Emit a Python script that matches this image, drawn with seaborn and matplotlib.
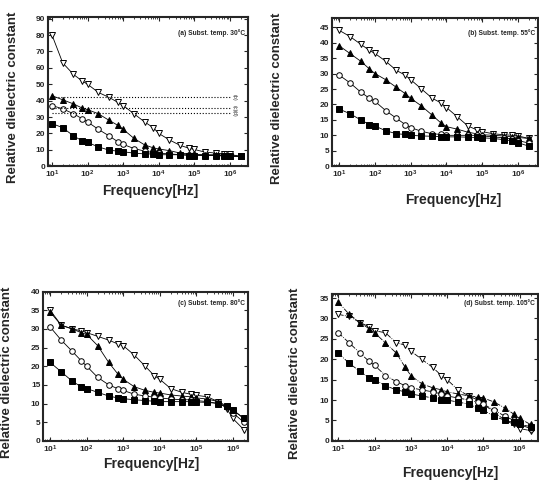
import matplotlib
matplotlib.use("Agg")
import matplotlib.pyplot as plt
import matplotlib.ticker as mticker
import seaborn as sns

# measurement frequencies [Hz]
freq = [10, 20, 40, 70, 100, 200, 400, 700, 1e3, 2e3, 4e3, 7e3,
        1e4, 2e4, 4e4, 7e4, 1e5, 2e5, 4e5, 7e5, 1e6, 2e6]

# (a) substrate 30 C
a_down = [80, 63, 56, 52, 50, 45, 42, 39, 37, 32, 27, 23.5, 20, 16, 12.7, 11, 10.2, 8.6, 8, 7.6, 7.2, 6]
a_up = [43, 40.5, 38, 35.5, 34.5, 32, 28, 25, 22.5, 17, 13, 11.2, 10.5, 9.5, 8, 7.5, 7.3, 7, 7, 6.8, 6.5, 6]
a_circ = [37, 35, 32, 29, 27, 22.5, 18.5, 15, 13.3, 10.8, 9.2, 8.3, 8, 7.5, 7, 7, 7, 6.5, 6.5, 6.5, 6.2, 6]
a_sq = [26, 23.5, 18.5, 15.5, 14.5, 11.8, 9.8, 9.2, 8.8, 8, 7.5, 7.5, 7, 7, 7, 6.5, 6.5, 6.5, 6.5, 6.2, 6, 6]
a_ref_vals = [42, 35.5, 32.5]
a_ref_names = ["(b)", "(c)", "(d)"]

# (b) substrate 55 C
b_down = [44, 42, 39.5, 37.5, 36.5, 34, 31, 29.5, 28, 25, 22, 20.5, 19, 16, 13, 11.8, 11.2, 10.5, 10.2, 10, 9.8, 9]
b_up = [39, 36.5, 34, 31.5, 30, 28, 25.5, 23.5, 22, 19.5, 16.5, 14, 12.8, 12, 11, 10.5, 10.2, 10, 9.8, 9.5, 9.3, 9]
b_circ = [29.5, 27, 24, 22, 21, 18, 15.5, 13.5, 12.5, 11.3, 10.5, 10.3, 10, 10, 10, 10, 9.8, 9.5, 9.2, 8.8, 8.3, 7.5]
b_sq = [18.5, 17, 15, 13.5, 13, 11.5, 10.5, 10.3, 10, 9.8, 9.7, 9.6, 9.5, 9.5, 9.4, 9.3, 9.2, 9, 8.6, 8.2, 7.6, 6.5]

# (c) substrate 80 C
c_down = [35, 31, 30, 29.5, 29, 28, 27, 26, 25.5, 23, 20, 17.5, 16.5, 14, 13, 12.5, 12.2, 11.8, 10.5, 8.5, 6, 3]
c_up = [34.5, 31, 30, 29, 28.5, 25.5, 21, 18, 16.5, 14.5, 13.5, 13, 12.8, 12.3, 12, 11.8, 11.5, 11.2, 10.5, 9.3, 8.3, 6]
c_circ = [30.5, 27, 24, 21.5, 20, 17, 15, 14, 13.5, 12.5, 12, 11.7, 11.5, 11.2, 11, 11, 10.8, 10.5, 10, 9, 7.5, 5]
c_sq = [21, 18.5, 16, 14.5, 14, 13, 12, 11.5, 11.3, 11, 10.8, 10.6, 10.5, 10.5, 10.5, 10.5, 10.4, 10.3, 10, 9.2, 8.3, 6]

# (d) substrate 105 C
d_down = [31, 30.5, 29, 28, 27, 26.5, 24, 23.5, 22, 20, 18, 16, 15, 12.5, 11, 10, 9, 7, 5, 4, 3, 2.5]
d_up = [34, 31, 29, 27.5, 26.5, 24, 21.5, 18, 16, 14, 13, 12.5, 12, 11.5, 11, 10.8, 10.5, 9.5, 8, 6.5, 5.5, 4]
d_circ = [26.5, 24, 21.5, 19.5, 18.5, 16, 14.5, 13.5, 13, 12.5, 12, 11.5, 11, 10.5, 10, 9.5, 9, 7.5, 6, 5, 4, 3]
d_sq = [21.5, 19, 17, 15.5, 15, 13.5, 12.5, 12, 11.5, 11, 10.5, 10, 10, 9.5, 9, 8, 7.5, 6, 5, 4.5, 4, 3.5]

titles = ["(a) Subst. temp. 30°C", "(b) Subst. temp. 55°C",
          "(c) Subst. temp. 80°C", "(d) Subst. temp. 105°C"]
panel_data = [(a_down, a_up, a_circ, a_sq), (b_down, b_up, b_circ, b_sq),
              (c_down, c_up, c_circ, c_sq), (d_down, d_up, d_circ, d_sq)]

sns.set_style("ticks")
plt.rcParams['font.family'] = ['Liberation Sans', 'DejaVu Sans']
plt.rcParams['mathtext.fontset'] = 'custom'
plt.rcParams['mathtext.rm'] = 'Liberation Sans'
plt.rcParams['mathtext.bf'] = 'Liberation Sans:bold'

fig = plt.figure(figsize=(5.39, 4.86), dpi=100)
positions = [[0.089, 0.658, 0.371, 0.307], [0.616, 0.658, 0.382, 0.305],
             [0.080, 0.093, 0.380, 0.307], [0.616, 0.093, 0.382, 0.302]]
xlims = [(7.7, 3.2e6), (6.3, 3.6e6), (6.4, 2.6e6), (6.7, 3.2e6)]
ylims = [(0, 91), (0, 48), (0, 40), (0, 36)]
ystep = [10, 5, 5, 5]
text_y = [0.89, 0.90, 0.926, 0.94]
ylab_x = [-0.175, -0.267, -0.176, -0.18]
xlab = [(0.51, -0.168), (0.587, -0.23), (0.53, -0.154), (0.573, -0.218)]

markers = [("v", "white"), ("^", "black"), ("o", "white"), ("s", "black")]

for i, pos in enumerate(positions):
    ax = fig.add_axes(pos)
    ls = "-." if i == 3 else "-"
    for vals, (m, fc) in zip(panel_data[i], markers):
        sns.lineplot(x=freq, y=vals, ax=ax, color="black", linewidth=0.6,
                     linestyle=ls, marker=m, markersize=4,
                     markerfacecolor=fc, markeredgecolor="black",
                     markeredgewidth=0.7)
    ax.set_xscale("log")
    ax.set_xlim(*xlims[i])
    ax.set_ylim(*ylims[i])
    ax.set_xticks([1e1, 1e2, 1e3, 1e4, 1e5, 1e6])
    ax.set_xticklabels([r"$\mathbf{10^{%d}}$" % k for k in range(1, 7)])
    ax.xaxis.set_minor_locator(mticker.LogLocator(base=10, subs=range(2, 10), numticks=20))
    ax.xaxis.set_minor_formatter(mticker.NullFormatter())
    yt = list(range(0, int(ylims[i][1]) + 1, ystep[i]))
    ax.set_yticks(yt)
    ax.set_yticklabels([str(v) for v in yt], fontweight="bold")
    ax.tick_params(which="both", direction="in", top=True, right=True, labelsize=6, pad=2)
    ax.tick_params(which="major", length=3, width=0.8)
    ax.tick_params(which="minor", length=1.5, width=0.6)
    for sp in ax.spines.values():
        sp.set_linewidth(1.5)
    ax.set_xlabel("Frequency[Hz]", fontsize=10, fontweight="bold")
    ax.set_ylabel("Relative dielectric constant", fontsize=9.5, fontweight="bold")
    ax.xaxis.label.set_va("center")
    ax.yaxis.label.set_va("center")
    ax.xaxis.set_label_coords(*xlab[i])
    ax.yaxis.set_label_coords(ylab_x[i], 0.46)
    ax.text(0.985, text_y[i], titles[i], transform=ax.transAxes, ha="right",
            va="center", fontsize=4.8, fontweight="bold")
    ax.grid(False)

    if i == 0:
        for v, name in zip(a_ref_vals, a_ref_names):
            ax.plot([10, 1e6], [v, v], color="black", linestyle=":", linewidth=0.8)
            ax.text(1.35e6, v, name, rotation=-90, fontsize=3.8, ha="center", va="center")

fig.savefig("out.png", dpi=100)
